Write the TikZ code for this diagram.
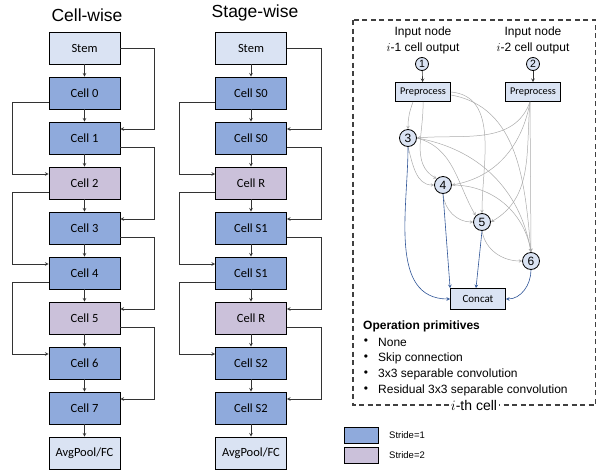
\documentclass[tikz,border=0pt]{standalone}
\usepackage{fontspec}
\setmainfont{Liberation Sans}
\newfontfamily\cellfont{Carlito}
\usetikzlibrary{positioning}

\definecolor{stemfill}{HTML}{DAE3F3}
\definecolor{onefill}{HTML}{8FAADC}
\definecolor{twofill}{HTML}{CBC1DA}
\definecolor{edgegray}{HTML}{ABABAB}
\definecolor{catblue}{HTML}{2F5597}

\begin{document}
\begin{tikzpicture}[x=1pt,y=-1pt,
  cellbox/.style={draw, line width=0.9pt, minimum width=71pt, minimum height=32pt, inner sep=0pt,
    font=\cellfont\fontsize{12.5}{14}\selectfont},
  stemcell/.style={cellbox, fill=stemfill},
  stride1/.style={cellbox, fill=onefill},
  stride2/.style={cellbox, fill=twofill},
  flow/.style={->, >=stealth, draw=black!80, line width=0.6pt},
  inport/.style={circle, draw, fill=stemfill, line width=0.8pt, minimum size=13pt, inner sep=0pt,
    font=\fontsize{10.5}{12}\selectfont},
  opnode/.style={circle, draw, fill=stemfill, line width=0.8pt, minimum size=17pt, inner sep=0pt,
    font=\fontsize{12}{14}\selectfont},
  prebox/.style={draw, fill=stemfill, line width=0.8pt, minimum width=55pt, minimum height=19pt, inner sep=0pt,
    font=\cellfont\fontsize{10.3}{12}\selectfont},
  gedge/.style={->, >=stealth, draw=edgegray, line width=0.5pt},
  bedge/.style={->, >=stealth, draw=catblue, line width=0.6pt}
]
\useasboundingbox (0,0) rectangle (597,469);

% cell-wise column
\node[stemcell] (cwstem) at (84.5,48) {Stem};
\foreach \k/\sty in {0/stride1,1/stride1,2/stride2,3/stride1,4/stride1,5/stride2,6/stride1,7/stride1}
  \node[\sty] (cw\k) at (84.5,93+45*\k) {Cell \k};
\node[stemcell] (cwout) at (84.5,453) {AvgPool/FC};

% stage-wise column
\node[stemcell] (swstem) at (251,48) {Stem};
\foreach \k/\lab/\sty in {0/S0/stride1,1/S0/stride1,2/R/stride2,3/S1/stride1,4/S1/stride1,5/R/stride2,6/S2/stride1,7/S2/stride1}
  \node[\sty] (sw\k) at (251,93+45*\k) {Cell \lab};
\node[stemcell] (swout) at (251,453) {AvgPool/FC};

% column titles
\node[font=\fontsize{17.5}{20}\selectfont, inner sep=0pt, above=10pt of cwstem, xshift=2.5pt] (cwtitle) {Cell-wise};
\node[font=\fontsize{17.5}{20}\selectfont, inner sep=0pt, above=10pt of swstem, xshift=4pt] (swtitle) {Stage-wise};

% straight connections
\foreach \c in {cw,sw} {
  \draw[flow] (\c stem) -- (\c0);
  \draw[flow] (\c7) -- (\c out);
  \foreach \k [evaluate=\k as \n using int(\k+1)] in {0,...,6}
    \draw[flow] (\c\k) -- (\c\n);
  % skip connections
  \draw[flow] (\c stem.east) -- ++(34,0) |- ([yshift=9pt]\c1.east);
  \foreach \k [evaluate=\k as \n using int(\k+2)] in {0,2,4}
    \draw[flow] ([yshift=-9pt]\c\k.west) -- ++(-36,0) |- ([yshift=9pt]\c\n.west);
  \foreach \k [evaluate=\k as \n using int(\k+2)] in {1,3,5}
    \draw[flow] ([yshift=-9pt]\c\k.east) -- ++(34,0) |- ([yshift=9pt]\c\n.east);
}

% i-th cell
\draw[dash pattern=on 5pt off 3.5pt, line width=1.2pt, draw=black!75] (353,20) rectangle (595.5,405);
\node[fill=white, inner sep=1.5pt, font=\fontsize{14}{16}\selectfont] (celllab) at (474,405) {$i$-th cell};

\node[align=center, inner sep=0pt, font=\fontsize{12}{16}\selectfont] (lab1) at (423,40) {Input node\\$i$-1 cell output};
\node[align=center, inner sep=0pt, font=\fontsize{12}{16}\selectfont] (lab2) at (533,40) {Input node\\$i$-2 cell output};
\node[inport] (in1) at (422,64) {1};
\node[inport] (in2) at (533,64) {2};
\node[prebox] (pre1) at (423,92) {Preprocess};
\node[prebox] (pre2) at (533,92) {Preprocess};
\draw[flow] (in1) -- (pre1);
\draw[flow] (in2) -- (pre2);

\node[opnode] (n3) at (408,138) {3};
\node[opnode] (n4) at (443,185) {4};
\node[opnode] (n5) at (482,222) {5};
\node[opnode] (n6) at (531,261) {6};
\node[prebox, minimum width=55pt, minimum height=21pt, font=\cellfont\fontsize{11}{13}\selectfont] (concat) at (478,299) {Concat};

% candidate edges
\draw[gedge] ([xshift=-10pt]pre1.south) to[out=-110,in=90] (n3.north);
\draw[gedge] (pre1.south) to[out=-88,in=150] (n4.north west);
\draw[gedge] (pre1.east) to[out=-5,in=90] (n5.north);
\draw[gedge] ([yshift=-3pt]pre1.east) to[out=-10,in=95] (n6.north);
\draw[gedge] ([xshift=-3pt]pre2.south) to[out=-110,in=5] (n3.east);
\draw[gedge] ([xshift=-3pt]pre2.south) to[out=-100,in=10] (n4.east);
\draw[gedge] ([xshift=-3pt]pre2.south) to[out=-95,in=30] (n5.east);
\draw[gedge] ([xshift=-3pt]pre2.south) -- (n6.north);
\draw[gedge] (n3.south) to[out=-75,in=180] (n4.west);
\draw[gedge] (n3.east) to[out=-15,in=120] (n5.north west);
\draw[gedge] (n3.east) to[out=-10,in=100] (n6.north);
\draw[gedge] (n4.south) to[out=-85,in=180] (n5.west);
\draw[gedge] (n4.east) to[out=0,in=100] (n6.north);
\draw[gedge] (n5.south) to[out=-80,in=180] (n6.west);

% outputs to concat
\draw[bedge] (n3.south) to[out=-90,in=180] (concat.west);
\draw[bedge] (n4.south) -- (concat.north west);
\draw[bedge] (n5.south) -- ([xshift=-2pt]concat.north);
\draw[bedge] (n6.south) to[out=-90,in=0] (concat.east);

% operation primitives
\node[anchor=west, inner sep=0pt, font=\bfseries\fontsize{12}{14}\selectfont] (ophead) at (363,326) {Operation primitives};
\foreach \t [count=\i] in {None, Skip connection, 3x3 separable convolution, Residual 3x3 separable convolution} {
  \node[inner sep=0pt, font=\fontsize{12}{14}\selectfont] (bul\i) at (366,326+16*\i) {\textbullet};
  \node[anchor=west, inner sep=0pt, font=\fontsize{12}{14}\selectfont] (op\i) at (378,326+16*\i) {\t};
}

% legend
\node[draw, fill=onefill, line width=0.8pt, minimum width=34pt, minimum height=16pt, inner sep=0pt] (key1) at (361,435) {};
\node[draw, fill=twofill, line width=0.8pt, minimum width=34pt, minimum height=16pt, inner sep=0pt] (key2) at (361,455) {};
\node[anchor=west, inner sep=0pt, font=\fontsize{9.5}{11}\selectfont] (keylab1) at (389,435) {Stride=1};
\node[anchor=west, inner sep=0pt, font=\fontsize{9.5}{11}\selectfont] (keylab2) at (389,455) {Stride=2};
\end{tikzpicture}
\end{document}
